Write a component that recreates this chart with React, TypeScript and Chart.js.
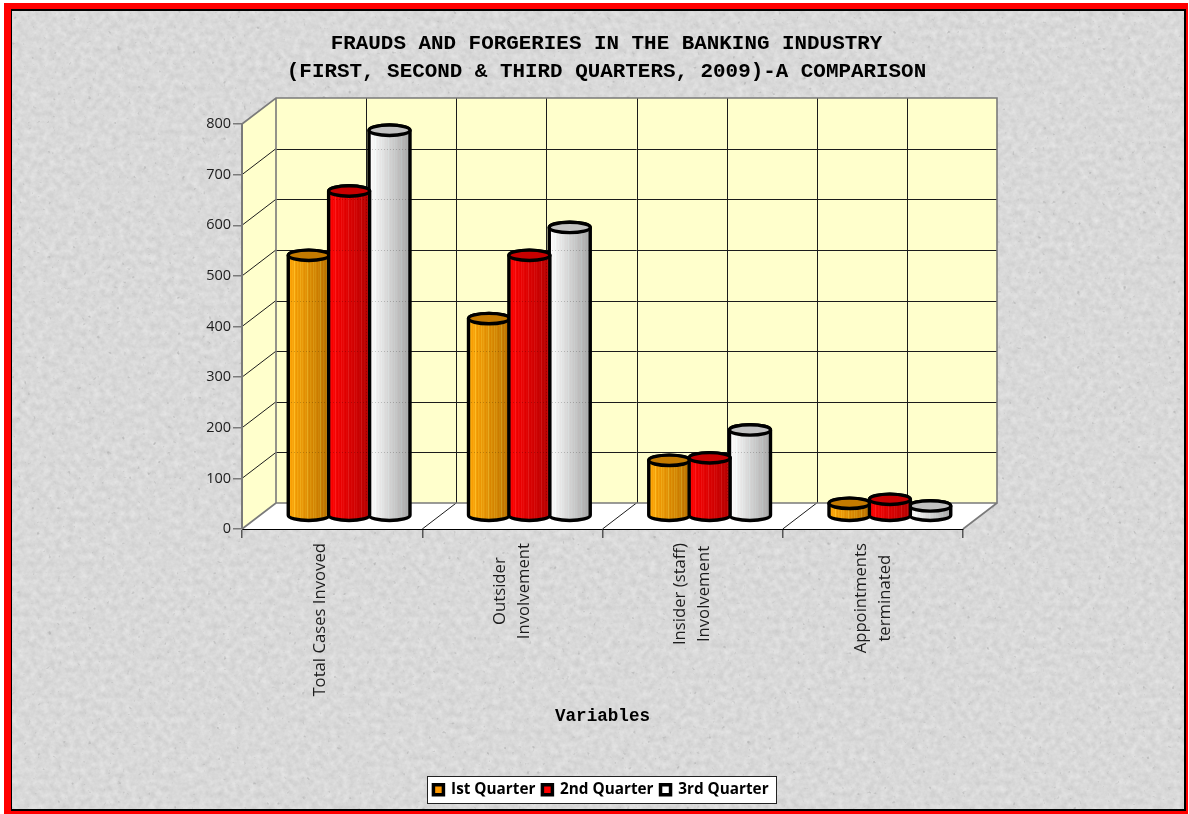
import React, { useEffect, useRef } from "react";
import { Chart, BarController, registerables } from "chart.js";

const categories = [
  ["Total Cases Invoved", ""],
  ["Outsider", "Involvement"],
  ["Insider (staff)", "Involvement"],
  ["Appointments", "terminated"],
];
const firstQuarter = [515, 390, 110, 25];
const secondQuarter = [642, 515, 115, 33];
const thirdQuarter = [762, 570, 170, 20];
const seriesNames = ["Ist Quarter", "2nd Quarter", "3rd Quarter"];
const titleLines = [
  "FRAUDS AND FORGERIES IN THE BANKING INDUSTRY",
  "(FIRST, SECOND & THIRD QUARTERS, 2009)-A COMPARISON",
];
const xAxisTitle = "Variables";

// Depth of the fake 3D box, in pixels.
const DEPTH_X = 34;
const DEPTH_Y = -26;
const CAP_RY = 5.2;
const WALL = "#FFFFCC";
const EDGE = "#7a7a7a";
const GRID = "#1c1c1c";

type Shade = { light: number[]; dark: number[]; cap: string; stripes: number };
const shades: Shade[] = [
  { light: [255, 170, 12], dark: [186, 114, 0], cap: "#C47A00", stripes: 26 },
  { light: [255, 6, 6], dark: [180, 0, 0], cap: "#C80000", stripes: 24 },
  { light: [255, 255, 255], dark: [165, 165, 165], cap: "#C2C2C2", stripes: 8 },
];
// Repeating highlight offsets that give the bodies their ribbed look.
const ribs = [0, 0.4, 0, -0.25, 0.15, 0, 1, 0, -0.3, 0.3, 0, -0.2, 0.6];
const PAINT_ORDER = [0, 2, 1];

function drawWallLines(ctx: CanvasRenderingContext2D, chart: any, withEdges: boolean) {
  const { left, right, bottom, top } = chart.chartArea;
  const { x, y } = chart.scales;
  const half = (x.getPixelForValue(1) - x.getPixelForValue(0)) / 2;
  ctx.beginPath();
  y.ticks.forEach((_: any, i: number) => {
    const py = Math.round(y.getPixelForTick(i) + DEPTH_Y) + 0.5;
    if (i === 0 || i === y.ticks.length - 1) return;
    ctx.moveTo(left + DEPTH_X, py);
    ctx.lineTo(right + DEPTH_X, py);
  });
  categories.forEach((_, i) => {
    const c = x.getPixelForValue(i);
    [c - half, c].forEach((v, k) => {
      if (i === 0 && k === 0) return;
      const px = Math.round(v + DEPTH_X) + 0.5;
      ctx.moveTo(px, top + DEPTH_Y);
      ctx.lineTo(px, bottom + DEPTH_Y);
    });
  });
  ctx.stroke();
  if (!withEdges) return;
  ctx.beginPath();
  y.ticks.forEach((_: any, i: number) => {
    if (i === 0 || i === y.ticks.length - 1) return;
    const py = y.getPixelForTick(i);
    ctx.moveTo(left, py);
    ctx.lineTo(left + DEPTH_X, py + DEPTH_Y);
  });
  categories.forEach((_, i) => {
    const c = x.getPixelForValue(i);
    if (i === 0) return;
    ctx.moveTo(c - half, bottom);
    ctx.lineTo(c - half + DEPTH_X, bottom + DEPTH_Y);
  });
  ctx.stroke();
}

// Rotated multi-line tick labels: split them so each line is centred on the longest one.
function centreLabelLines(scale: any) {
  if (scale.__centred) return;
  scale.__centred = true;
  const compute = scale._computeLabelItems.bind(scale);
  scale._computeLabelItems = (area: any) => {
    const ctx: CanvasRenderingContext2D = scale.ctx;
    const out: any[] = [];
    compute(area).forEach((item: any) => {
      const lines: string[] = Array.isArray(item.label) ? item.label : [item.label];
      ctx.save();
      ctx.font = item.font.string;
      const sizes = lines.map((l) => ctx.measureText(l).width);
      ctx.restore();
      const longest = Math.max(...sizes);
      const [tx, ty] = item.options.translation;
      lines.forEach((line, k) => {
        if (!line) return;
        out.push({
          ...item,
          label: line,
          textOffset: item.textOffset + k * item.font.lineHeight,
          options: { ...item.options, translation: [tx, ty + (longest - sizes[k]) / 2] },
        });
      });
    });
    return out;
  };
}

const stagePlugin = {
  id: "stage",
  afterLayout(chart: any) {
    // The heading sits slightly right of the legend's centre line.
    chart.titleBlock.left += 5.5;
    chart.titleBlock.right += 5.5;
  },
  beforeDraw(chart: any) {
    const { ctx, chartArea, legend } = chart;
    const { left, right, top, bottom } = chartArea;
    ctx.save();
    ctx.fillStyle = "#FFFFFF";
    ctx.beginPath();
    ctx.moveTo(left, bottom);
    ctx.lineTo(right, bottom);
    ctx.lineTo(right + DEPTH_X, bottom + DEPTH_Y);
    ctx.lineTo(left + DEPTH_X, bottom + DEPTH_Y);
    ctx.closePath();
    ctx.fill();
    ctx.fillStyle = WALL;
    ctx.beginPath();
    ctx.moveTo(left, bottom);
    ctx.lineTo(left + DEPTH_X, bottom + DEPTH_Y);
    ctx.lineTo(left + DEPTH_X, top + DEPTH_Y);
    ctx.lineTo(left, top);
    ctx.closePath();
    ctx.fill();
    ctx.fillRect(left + DEPTH_X, top + DEPTH_Y, right - left, bottom - top);

    ctx.strokeStyle = GRID;
    ctx.lineWidth = 1;
    drawWallLines(ctx, chart, true);

    // Outer edges of the box are a heavier grey.
    ctx.strokeStyle = EDGE;
    ctx.lineWidth = 1.6;
    ctx.beginPath();
    ctx.moveTo(left, top);
    ctx.lineTo(left + DEPTH_X, top + DEPTH_Y);
    ctx.lineTo(right + DEPTH_X, top + DEPTH_Y);
    ctx.lineTo(right + DEPTH_X, bottom + DEPTH_Y);
    ctx.lineTo(left + DEPTH_X, bottom + DEPTH_Y);
    ctx.lineTo(left + DEPTH_X, top + DEPTH_Y);
    ctx.moveTo(left, bottom);
    ctx.lineTo(left + DEPTH_X, bottom + DEPTH_Y);
    ctx.moveTo(right, bottom);
    ctx.lineTo(right + DEPTH_X, bottom + DEPTH_Y);
    ctx.stroke();

    // Legend panel.
    const boxes = legend.legendHitBoxes;
    const x0 = Math.min(...boxes.map((b: any) => b.left));
    const x1 = Math.max(...boxes.map((b: any) => b.left + b.width));
    ctx.fillStyle = "#FFFFFF";
    ctx.strokeStyle = "#222";
    ctx.lineWidth = 1;
    const bx = Math.round(x0 - 6) + 0.5;
    const by = Math.round(boxes[0].top - 6) + 0.5;
    const bw = Math.round(x1 - x0 + 14);
    ctx.fillRect(bx, by, bw, 27);
    ctx.strokeRect(bx, by, bw, 27);
    ctx.restore();
  },
};

class CylinderController extends BarController {
  static id = "cylinderBar";
  static defaults = BarController.defaults;
  static overrides = BarController.overrides;

  draw() {
    // All series are painted in one pass so overlaps follow PAINT_ORDER.
    if (this.index !== 0) return;
    const chart: any = this.chart;
    const ctx: CanvasRenderingContext2D = chart.ctx;
    PAINT_ORDER.forEach((ds) => {
      const meta = chart.getDatasetMeta(ds);
      meta.data.forEach((el: any) => {
        const { x, y, base, width } = el.getProps(["x", "y", "base", "width"], true);
        paintCylinder(ctx, chart, shades[ds], x + DEPTH_X / 2, y + DEPTH_Y / 2, base + DEPTH_Y / 2, width);
      });
    });
  }
}

function paintCylinder(
  ctx: CanvasRenderingContext2D,
  chart: any,
  shade: Shade,
  cx: number,
  topY: number,
  baseY: number,
  width: number
) {
  const rx = width / 2 + 0.3;
  const x0 = cx - rx;
  const silhouette = () => {
    ctx.beginPath();
    ctx.moveTo(x0, topY);
    ctx.lineTo(x0, baseY);
    ctx.ellipse(cx, baseY, rx, CAP_RY, 0, Math.PI, 0, true);
    ctx.lineTo(cx + rx, topY);
    ctx.ellipse(cx, topY, rx, CAP_RY, 0, 0, Math.PI, true);
    ctx.closePath();
  };
  ctx.save();
  ctx.save();
  silhouette();
  ctx.clip();
  const w = Math.ceil(rx * 2);
  const xStart = Math.round(x0);
  for (let i = 0; i <= w; i++) {
    const t = i / w;
    const rib = ribs[i % ribs.length] * shade.stripes;
    const mix = (k: number) =>
      Math.max(0, Math.min(255, Math.round(shade.light[k] + (shade.dark[k] - shade.light[k]) * t + (k === 0 ? rib * 0.3 : rib))));
    ctx.fillStyle = `rgb(${mix(0)},${mix(1)},${mix(2)})`;
    ctx.fillRect(xStart + i, topY - CAP_RY - 1, 1, baseY - topY + CAP_RY * 2 + 2);
  }
  // The box's grid faintly shows through the bodies.
  ctx.strokeStyle = "rgba(0,0,0,0.2)";
  ctx.setLineDash([1, 2]);
  ctx.lineWidth = 1;
  drawWallLines(ctx, chart, false);
  ctx.setLineDash([]);
  ctx.restore();
  ctx.strokeStyle = "#000";
  ctx.lineWidth = 3.4;
  ctx.lineJoin = "round";
  silhouette();
  ctx.stroke();
  ctx.beginPath();
  ctx.ellipse(cx, topY, rx, CAP_RY, 0, 0, Math.PI * 2);
  ctx.fillStyle = shade.cap;
  ctx.fill();
  ctx.stroke();
  ctx.restore();
}

Chart.register(...registerables, CylinderController);

// Speckled stone backdrop for the panel.
const textureSvg =
  "data:image/svg+xml," +
  encodeURIComponent(
    `<svg xmlns='http://www.w3.org/2000/svg' width='1189' height='814'><filter id='g' color-interpolation-filters='sRGB' x='0' y='0' width='100%' height='100%'>` +
      `<feTurbulence type='fractalNoise' baseFrequency='0.16' numOctaves='3' seed='7'/>` +
      `<feColorMatrix values='0.12 0 0 0 0.79 0.12 0 0 0 0.79 0.12 0 0 0 0.79 0 0 0 0 1' result='stone'/>` +
      `<feTurbulence type='fractalNoise' baseFrequency='0.2' numOctaves='2' seed='3'/>` +
      `<feColorMatrix values='0 0 0 0 0.68 0 0 0 0 0.68 0 0 0 0 0.68 4 0 0 0 -2.9' result='specks'/>` +
      `<feMerge><feMergeNode in='stone'/><feMergeNode in='specks'/></feMerge>` +
      `</filter><rect width='100%' height='100%' filter='url(#g)'/></svg>`
  );

const LEGEND_GAP = 6.5;

export default function App() {
  const canvasRef = useRef<HTMLCanvasElement | null>(null);

  useEffect(() => {
    document.body.style.margin = "0";
    document.body.style.overflow = "hidden";
    const chart = new Chart(canvasRef.current!, {
      type: "cylinderBar" as any,
      data: {
        labels: categories as any,
        datasets: [
          { label: seriesNames[0], data: firstQuarter, backgroundColor: "#FF9900" },
          { label: seriesNames[1], data: secondQuarter, backgroundColor: "#FF0000" },
          { label: seriesNames[2], data: thirdQuarter, backgroundColor: "#FFFFFF" },
        ].map((d) => ({ ...d, borderColor: "#000000", borderWidth: 3.5, borderJoinStyle: "round", clip: false })),
      },
      plugins: [stagePlugin],
      options: {
        responsive: false,
        animation: false,
        layout: { padding: { left: 13, right: 0, top: 0, bottom: LEGEND_GAP } },
        datasets: { cylinderBar: { barPercentage: 1, categoryPercentage: 0.672 } } as any,
        scales: {
          x: {
            type: "category",
            offset: true,
            grid: { drawOnChartArea: false, drawTicks: true, tickLength: 9, color: "#555", lineWidth: 1.5, offset: true },
            border: { color: "#000", width: 1 },
            ticks: {
              autoSkip: false,
              minRotation: 90,
              maxRotation: 90,
              padding: 5,
              labelOffset: -12,
              color: "#1c1c1c",
              font: { family: "'Open Sans'", size: 16.7, lineHeight: 1.44 },
            },
            title: {
              display: true,
              text: xAxisTitle,
              color: "#000",
              font: { family: "'Liberation Mono'", weight: "bold", size: 17.6 },
              padding: { top: 0, bottom: 48 },
            },
            beforeUpdate: centreLabelLines,
            afterFit: (s: any) => {
              s.height = 285 - LEGEND_GAP - s.chart.legend.height;
            },
          },
          y: {
            min: 0,
            max: 800,
            ticks: {
              stepSize: 100,
              padding: 2,
              color: "#1c1c1c",
              font: { family: "'Open Sans'", size: 14.5 },
            },
            grid: { drawOnChartArea: false, drawTicks: true, tickLength: 9, color: EDGE, lineWidth: 1.5 },
            border: { color: EDGE, width: 2 },
            afterFit: (s: any) => {
              s.width = 229;
            },
          },
          spacer: {
            type: "linear",
            position: "right",
            display: true,
            ticks: { display: false },
            grid: { display: false },
            border: { display: false },
            afterFit: (s: any) => {
              s.width = 226;
            },
          },
        },
        plugins: {
          title: {
            display: true,
            text: titleLines,
            color: "#000",
            font: { family: "'Liberation Mono'", weight: "bold", size: 20.9, lineHeight: 28 / 20.9 },
            padding: { top: 30, bottom: 38 },
          },
          legend: {
            position: "bottom",
            labels: {
              boxWidth: 10,
              boxHeight: 10,
              padding: 7,
              color: "#000",
              font: { family: "'Open Sans'", weight: "bold", size: 15.3 },
            },
          },
          tooltip: { enabled: false },
        },
      } as any,
    });
    return () => chart.destroy();
  }, []);

  return (
    <div style={{ position: "absolute", left: 0, top: 0, width: 1189, height: 814, background: "#ffffff", overflow: "hidden" }}>
      <div style={{ position: "absolute", left: 4, top: 3, width: 1184, height: 811, background: "#FF0000" }} />
      <div
        style={{
          position: "absolute",
          boxSizing: "border-box",
          left: 11,
          top: 9,
          width: 1175,
          height: 802,
          border: "2px solid #000",
          borderLeftWidth: 1.5,
          backgroundColor: "#d9d9d9",
          backgroundImage: `url("${textureSvg}")`,
        }}
      />
      <canvas ref={canvasRef} width={1189} height={814} style={{ position: "absolute", left: 0, top: 0 }} />
    </div>
  );
}
